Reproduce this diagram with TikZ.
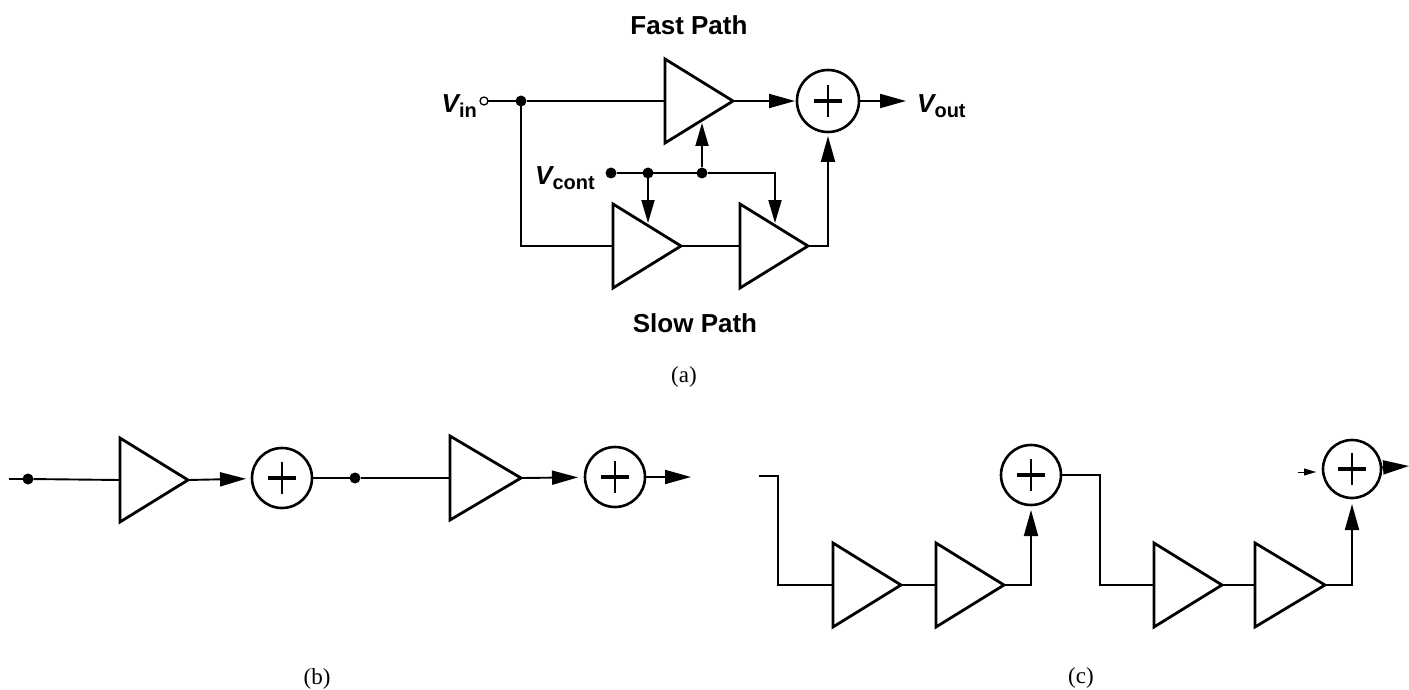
\documentclass[tikz,border=0pt]{standalone}
\usepackage{fontspec}
\setmainfont{Liberation Sans}
\newfontfamily\capfont{Liberation Serif}
\usetikzlibrary{shapes.geometric,arrows.meta}
\newcommand{\Vsym}[1]{{\fontsize{26}{30}\selectfont\bfseries\itshape V}{\fontsize{20}{24}\selectfont\bfseries\raisebox{-5pt}{#1}}}
\tikzset{
  amp/.style={isosceles triangle,isosceles triangle stretches,shape border rotate=0,draw,line width=2.8pt,
    minimum height=68pt,minimum width=84pt,inner sep=0pt,outer sep=0pt,anchor=apex,line join=miter},
  sumnode/.style={circle,draw,line width=2.6pt,minimum size=60pt,inner sep=0pt,outer sep=0pt,
    path picture={
      \draw[line width=3.4pt] ([xshift=-14pt]path picture bounding box.center) -- ([xshift=14pt]path picture bounding box.center);
      \draw[line width=2.4pt] ([yshift=-16pt]path picture bounding box.center) -- ([yshift=16pt]path picture bounding box.center);
    }},
  wire/.style={line width=1.9pt},
  arr/.style={wire,-{Triangle[length=26pt,width=14pt]}},
  smallarr/.style={wire,-{Triangle[length=23pt,width=13pt]}},
  junction/.style={circle,fill=black,minimum size=11pt,inner sep=0pt,outer sep=0pt},
  port/.style={circle,draw,fill=white,line width=1.3pt,minimum size=8pt,inner sep=0pt,outer sep=0pt},
  head/.style={font=\fontsize{26}{30}\selectfont\bfseries,inner sep=0pt},
  lab/.style={inner sep=0pt},
  figcap/.style={font=\capfont\fontsize{23}{27}\selectfont,inner sep=0pt},
}
\begin{document}
\begin{tikzpicture}[x=1pt,y=-1pt]
\useasboundingbox (0,0) rectangle (1409,690);
% ---------- (a)
\node[head] (fast) at (689,25) {Fast Path};
\node[head] (slow) at (695,323) {Slow Path};
\node[figcap] (capa) at (684,377) {(a)};
\node[lab,anchor=east] (vinl) at (477,106) {\Vsym{in}};
\node[port] (vin) at (484,101) {};
\node[junction] (j1) at (521,101) {};
\node[amp] (fa) at (733,101) {};
\node[sumnode,minimum size=62pt] (s) at (828,101) {};
\coordinate (vo) at (906,101);
\node[lab,anchor=west] (voutl) at (917,106) {\Vsym{out}};
\node[amp] (sa) at (681,246) {};
\node[amp] (sb) at (808,246) {};
\node[lab,anchor=east] (vcl) at (595,178) {\Vsym{cont}};
\node[junction] (c0) at (611,173) {};
\node[junction] (c1) at (648,173) {};
\node[junction] (c2) at (702,173) {};
\coordinate (c3) at (775,173);
\coordinate (fctl) at (702,123);
\coordinate (sactl) at (648,223);
\coordinate (sbctl) at (775,223);
\draw[wire] (vin) -- (j1);
\draw[wire] (j1) -- (fa.lower side);
\draw[wire] (j1) |- (sa.lower side);
\draw[wire] (sa.apex) -- (sb.lower side);
\draw[arr,shorten >=2pt] (fa.apex) -- (s);
\draw[arr] (s) -- (vo);
\draw[arr,shorten >=4pt] (sb.apex) -| (s.south);
\draw[wire] (c0) -- (c2);
\draw[smallarr] (c2) -- (fctl);
\draw[smallarr] (c1) -- (sactl);
\draw[smallarr] (c2) -- (c3) -- (sbctl);
% ---------- (b)
\coordinate (bin) at (9,479);
\node[junction] (bj1) at (28,479) {};
\node[amp] (ba) at (188,480) {};
\node[sumnode] (bs1) at (282,478) {};
\node[junction] (bj2) at (355,478) {};
\node[amp,minimum height=71pt] (bb) at (521,478) {};
\node[sumnode] (bs2) at (615,477) {};
\coordinate (bout) at (691,477);
\node[figcap] (capb) at (317,679) {(b)};
\draw[wire] (bin) -- (bj1);
\draw[wire] (bj1) -- (ba.lower side);
\draw[arr,shorten >=6pt] (ba.apex) -- (bs1);
\draw[wire] (bs1) -- (bj2);
\draw[wire] (bj2) -- (bb.lower side);
\draw[arr,shorten >=7pt] (bb.apex) -- (bs2);
\draw[arr] (bs2) -- (bout);
% ---------- (c)
\coordinate (cin) at (759,476);
\coordinate (cknee) at (778,476);
\node[amp] (ca) at (901,585) {};
\node[amp] (cb) at (1004,585) {};
\node[sumnode] (cs1) at (1031,475) {};
\coordinate (cmid) at (1100,475);
\node[amp] (cc) at (1222,585) {};
\node[amp,minimum height=70pt] (cd) at (1325,585) {};
\node[sumnode,minimum size=58pt] (cs2) at (1352,469) {};
\coordinate (cfa) at (1298,472);
\coordinate (cfb) at (1316,472);
\coordinate (cout) at (1409,466);
\node[figcap] (capc) at (1081,678) {(c)};
\draw[wire] (cin) -- (cknee) |- (ca.lower side);
\draw[wire] (ca.apex) -- (cb.lower side);
\draw[arr,shorten >=5pt] (cb.apex) -| (cs1.south);
\draw[wire] (cs1) -- (cmid) |- (cc.lower side);
\draw[wire] (cc.apex) -- (cd.lower side);
\draw[arr,shorten >=6pt] (cd.apex) -| (cs2.south);
\draw[wire,line width=1pt,-{Triangle[length=12pt,width=7pt]}] (cfa) -- (cfb);
\draw[arr] (cs2) -- (cout);
\end{tikzpicture}
\end{document}
